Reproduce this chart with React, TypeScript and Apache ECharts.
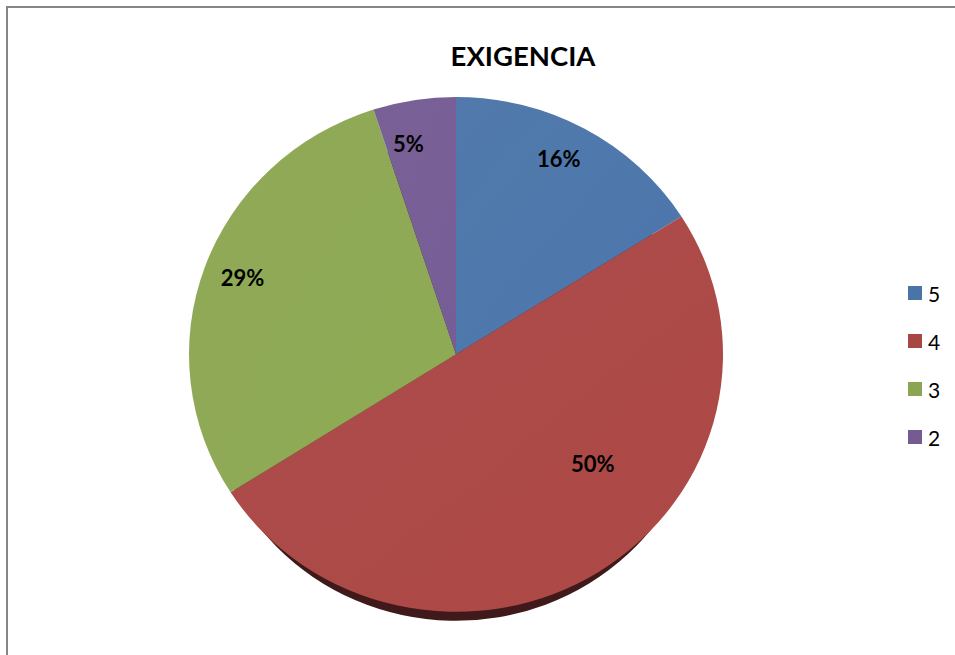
import React, { useEffect, useRef } from "react";
import * as echarts from "echarts";

const categories = ["5", "4", "3", "2"];
const values = [16, 50, 29, 5];
const colors = ["#4A74A8", "#A84644", "#8BA652", "#745B92"];
const shadowColors = ["#1e2f46", "#401a1a", "#3a4622", "#2f253d"];
const titleText = "EXIGENCIA";

// pie geometry (Excel-like, slightly flattened)
const CX = 456;
const CY = 354.5;
const RX = 267;
const RY = 257.5;
const LABEL_R = 0.83;
const SHADOW_K = 0.93;
const SHADOW_OFF = 27;
const labelNudge = [
  [-4, -9],
  [18, -71],
  [-5, -5],
  [-13, 0],
];

export default function App() {
  const ref = useRef<HTMLDivElement>(null);
  useEffect(() => {
    if (!ref.current) return;
    const chart = echarts.init(ref.current, null, { renderer: "svg" });
    const total = values.reduce((a, b) => a + b, 0);
    const cum: number[] = [];
    values.reduce((acc, v, i) => {
      cum[i] = acc;
      return acc + v;
    }, 0);

    const legendGraphics: any[] = [];
    categories.forEach((c, i) => {
      const y = 293 + i * 48;
      legendGraphics.push({
        type: "rect",
        shape: { x: 908, y: y - 7, width: 14, height: 14 },
        style: { fill: colors[i] },
        silent: true,
      });
      legendGraphics.push({
        type: "text",
        x: 928,
        y: y,
        style: {
          text: c,
          fill: "#000",
          font: "21px Lato",
          align: "left",
          verticalAlign: "middle",
        },
        silent: true,
      });
    });

    chart.setOption({
      animation: false,
      backgroundColor: "#ffffff",
      title: {
        text: titleText,
        left: 518,
        textAlign: "center",
        top: 36,
        textStyle: { fontFamily: "Lato", fontWeight: "bold", fontSize: 27.5, color: "#000" },
      },
      graphic: [
        {
          type: "rect",
          shape: { x: 7, y: 7, width: 970, height: 670 },
          style: { fill: "none", stroke: "#868686", lineWidth: 2 },
          silent: true,
        },
        ...legendGraphics,
      ],
      series: [
        {
          type: "custom",
          coordinateSystem: "none",
          silent: true,
          data: values.map((v, i) => ({ name: categories[i], value: [v, i] })),
          renderItem: (params: any, api: any) => {
            const i = params.dataIndex;
            const v = api.value(0);
            const a0 = -Math.PI / 2 + (cum[i] / total) * Math.PI * 2;
            const a1 = a0 + (v / total) * Math.PI * 2;
            const mid = (a0 + a1) / 2;
            const pct = Math.round((v / total) * 100);
            const sy = RY / RX;
            const lx = CX + LABEL_R * RX * Math.cos(mid) + labelNudge[i][0];
            const ly = CY + LABEL_R * RY * Math.sin(mid) + labelNudge[i][1];
            return {
              type: "group",
              children: [
                {
                  type: "sector",
                  z2: 0,
                  originX: CX,
                  originY: CY,
                  scaleY: sy,
                  y: SHADOW_OFF,
                  shape: { cx: CX, cy: CY, r: RX * SHADOW_K, r0: 0, startAngle: a0, endAngle: a1, clockwise: true },
                  style: { fill: shadowColors[i] },
                },
                {
                  type: "sector",
                  z2: 10,
                  originX: CX,
                  originY: CY,
                  scaleY: sy,
                  shape: { cx: CX, cy: CY, r: RX, r0: 0, startAngle: a0, endAngle: a1, clockwise: true },
                  style: {
                    fill: new echarts.graphic.LinearGradient(0, 0, 1, 1, [
                      { offset: 0, color: echarts.color.lift(colors[i], 0.04) },
                      { offset: 1, color: echarts.color.lift(colors[i], -0.03) },
                    ]),
                  },
                },
                {
                  type: "text",
                  z2: 20,
                  x: lx,
                  y: ly,
                  style: {
                    text: pct + "%",
                    fill: "#000",
                    font: "bold 22px Lato",
                    align: "center",
                    verticalAlign: "middle",
                  },
                },
              ],
            };
          },
        },
      ],
    });
    return () => chart.dispose();
  }, []);
  return (
    <div
      ref={ref}
      style={{ position: "fixed", left: 0, top: 0, width: 955, height: 655 }}
    />
  );
}
